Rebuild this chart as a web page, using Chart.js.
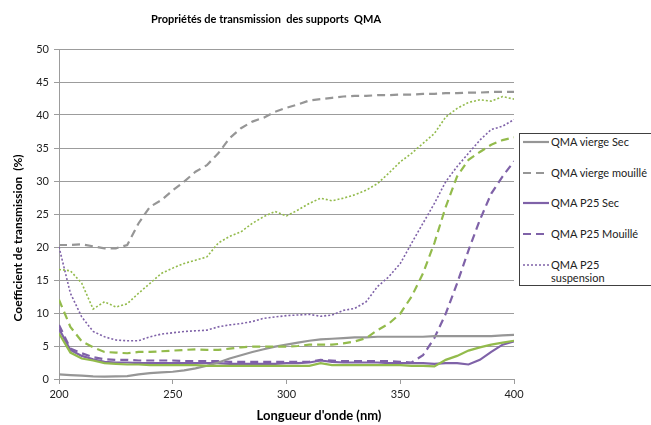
<!DOCTYPE html>
<html>
<head>
<meta charset="utf-8">
<script src="https://cdn.jsdelivr.net/npm/chart.js@4"></script>
<style>
  html, body { margin: 0; padding: 0; background: #fff; overflow: hidden; }
  #wrap { position: relative; width: 651px; height: 425px; overflow: hidden; }
  #chart { position: absolute; left: 0; top: 0; }
  #legend {
    position: absolute; left: 519px; top: 133px; width: 150px; height: 151px;
    border: 1px solid #404040; background: #fff;
    font-family: Lato, sans-serif; font-size: 11px; color: #222;
  }
  .item { position: absolute; left: 3px; display: flex; align-items: flex-start; white-space: nowrap; }
  .item svg { flex: none; margin-top: 1px; }
  .item span { margin-left: 2px; line-height: 13px; }
</style>
</head>
<body>
<div id="wrap">
  <canvas id="chart" width="651" height="425"></canvas>
  <div id="legend"></div>
</div>
<script>
// wavelengths (nm)
const wavelengths = [200,205,210,215,220,225,230,235,240,245,250,255,260,265,270,275,280,285,290,295,300,
  305,310,315,320,325,330,335,340,345,350,355,360,365,370,375,380,385,390,395,400];

// transmission (%)
const viergeSec = [0.7,0.6,0.5,0.4,0.35,0.4,0.45,0.7,0.9,1.0,1.1,1.3,1.6,2.0,2.5,3.1,3.6,4.1,4.5,4.9,5.2,
  5.5,5.8,6.0,6.1,6.2,6.3,6.3,6.4,6.4,6.4,6.4,6.4,6.5,6.5,6.5,6.5,6.5,6.5,6.6,6.7];
const viergeMouille = [20.3,20.3,20.4,20.1,19.8,19.8,20.3,23.6,26.1,27.1,28.6,29.9,31.4,32.4,34.2,36.5,38.0,39.0,39.6,40.5,41.1,
  41.6,42.2,42.4,42.6,42.8,42.9,42.9,43.0,43.0,43.1,43.1,43.2,43.2,43.3,43.3,43.4,43.4,43.5,43.5,43.5];
const p25Sec = [7.6,4.4,3.5,3.0,2.6,2.5,2.5,2.4,2.4,2.4,2.4,2.4,2.4,2.4,2.4,2.3,2.3,2.3,2.3,2.3,2.4,
  2.4,2.5,2.8,2.6,2.5,2.5,2.5,2.5,2.4,2.4,2.4,2.4,2.3,2.4,2.4,2.2,2.9,4.1,5.2,5.7];
const p25Mouille = [8.2,4.6,3.9,3.3,3.0,2.9,2.9,2.8,2.8,2.8,2.8,2.7,2.7,2.7,2.7,2.6,2.6,2.6,2.6,2.6,2.6,
  2.6,2.6,2.9,2.8,2.7,2.7,2.7,2.7,2.7,2.6,2.5,3.6,6.2,9.9,14.5,19.5,24.1,28.1,30.7,33.0];
const p25Suspension = [20.0,13.0,9.4,7.2,6.4,5.9,5.8,5.8,6.4,6.8,7.0,7.2,7.3,7.4,7.9,8.2,8.4,8.7,9.2,9.4,9.6,
  9.7,9.8,9.5,9.7,10.4,10.7,11.7,14.0,15.5,17.5,20.6,23.6,26.6,29.9,32.2,34.2,36.2,37.8,38.3,39.3];
const greenSec = [6.9,4.0,3.1,2.8,2.4,2.3,2.2,2.2,2.1,2.1,2.1,2.1,2.1,2.0,2.0,2.0,2.0,2.0,2.0,2.0,2.0,
  2.0,2.0,2.4,2.1,2.1,2.1,2.1,2.1,2.1,2.1,2.0,2.0,1.9,2.9,3.5,4.3,4.8,5.2,5.5,5.8];
const greenMouille = [12.0,7.9,5.7,4.8,4.1,4.0,3.9,4.1,4.1,4.2,4.3,4.4,4.5,4.4,4.4,4.6,4.8,4.9,4.9,4.9,4.9,
  5.0,5.2,5.2,5.2,5.4,5.7,6.2,7.4,8.4,9.9,12.5,16.0,20.6,26.1,30.7,33.2,34.4,35.5,36.2,36.6];
const greenSuspension = [16.6,16.4,14.5,10.6,11.7,10.9,11.4,13.0,14.5,16.0,16.8,17.5,18.0,18.5,20.6,21.6,22.3,23.6,24.6,25.4,24.7,
  25.6,26.6,27.4,27.0,27.4,27.9,28.6,29.6,31.2,32.9,34.2,35.7,37.2,39.7,41.0,41.9,42.3,42.1,42.8,42.4];

const GRAY = '#969696', PURPLE = '#7f62a8', GREEN = '#93bb4c';
const DASH = [8, 5], DOT = [2, 2];

function pts(vals) { return vals.map((v, i) => ({ x: wavelengths[i], y: v })); }

function ds(label, vals, color, dash, width, inLegend) {
  return { label: label, data: pts(vals), borderColor: color, backgroundColor: color,
    borderDash: dash, borderWidth: width, pointRadius: 0, tension: 0, fill: false, inLegend: inLegend };
}

const datasets = [
  ds('vert Sec', greenSec, GREEN, [], 2.2, false),
  ds('vert mouillé', greenMouille, GREEN, DASH, 2.2, false),
  ds('vert suspension', greenSuspension, GREEN, DOT, 1.6, false),
  ds('QMA vierge Sec', viergeSec, GRAY, [], 2.2, true),
  ds('QMA vierge mouillé', viergeMouille, GRAY, DASH, 2.2, true),
  ds('QMA P25 Sec', p25Sec, PURPLE, [], 2.2, true),
  ds('QMA P25 Mouillé', p25Mouille, PURPLE, DASH, 2.2, true),
  ds('QMA P25 suspension', p25Suspension, PURPLE, DOT, 1.6, true)
];

const FONT = 'Lato, sans-serif';
const GRID = '#9c9c9c';

// chart title and axis titles, placed like the original
const titlesPlugin = {
  id: 'titles',
  afterDraw(chart) {
    const ctx = chart.ctx;
    ctx.save();
    ctx.fillStyle = '#000';
    ctx.textAlign = 'center';
    ctx.textBaseline = 'middle';
    ctx.font = 'bold 11px ' + FONT;
    ctx.fillText('Propriétés de transmission  des supports  QMA', 266, 19);
    ctx.font = 'bold 13px ' + FONT;
    ctx.fillText("Longueur d'onde (nm)", 319, 416);
    ctx.translate(18, 238);
    ctx.rotate(-Math.PI / 2);
    ctx.font = 'bold 12px ' + FONT;
    ctx.fillText('Coefficient de transmission  (%)', 0, 0);
    ctx.restore();
  }
};

new Chart(document.getElementById('chart'), {
  type: 'line',
  data: { datasets: datasets },
  plugins: [titlesPlugin],
  options: {
    responsive: false,
    animation: false,
    layout: { padding: { top: 49, right: 137, left: 0, bottom: 0 } },
    plugins: { legend: { display: false }, tooltip: { enabled: false } },
    scales: {
      x: {
        type: 'linear', min: 200, max: 400,
        afterFit(s) { s.height = 46; },
        ticks: { stepSize: 50, color: '#222', font: { family: FONT, size: 11 }, padding: 4 },
        grid: { drawOnChartArea: false, color: GRID, tickLength: 5 },
        border: { color: GRID }
      },
      y: {
        min: 0, max: 50,
        afterFit(s) { s.width = 59; },
        ticks: { stepSize: 5, color: '#222', font: { family: FONT, size: 11 }, padding: 5 },
        grid: { color: GRID, tickLength: 5 },
        border: { color: GRID }
      }
    }
  }
});

// legend, only the five named series
const legend = document.getElementById('legend');
const tops = [1, 32, 62, 93, 124];
datasets.filter(d => d.inLegend).forEach((d, i) => {
  const item = document.createElement('div');
  item.className = 'item';
  item.style.top = tops[i] + 'px';
  const dashAttr = d.borderDash.length ? ' stroke-dasharray="' + d.borderDash.join(',') + '"' : '';
  item.innerHTML = '<svg width="26" height="12"><line x1="0" y1="6" x2="26" y2="6" stroke="' + d.borderColor +
    '" stroke-width="' + d.borderWidth + '"' + dashAttr + '/></svg>' +
    '<span>' + d.label.replace('P25 suspension', 'P25<br>suspension') + '</span>';
  legend.appendChild(item);
});
</script>
</body>
</html>
